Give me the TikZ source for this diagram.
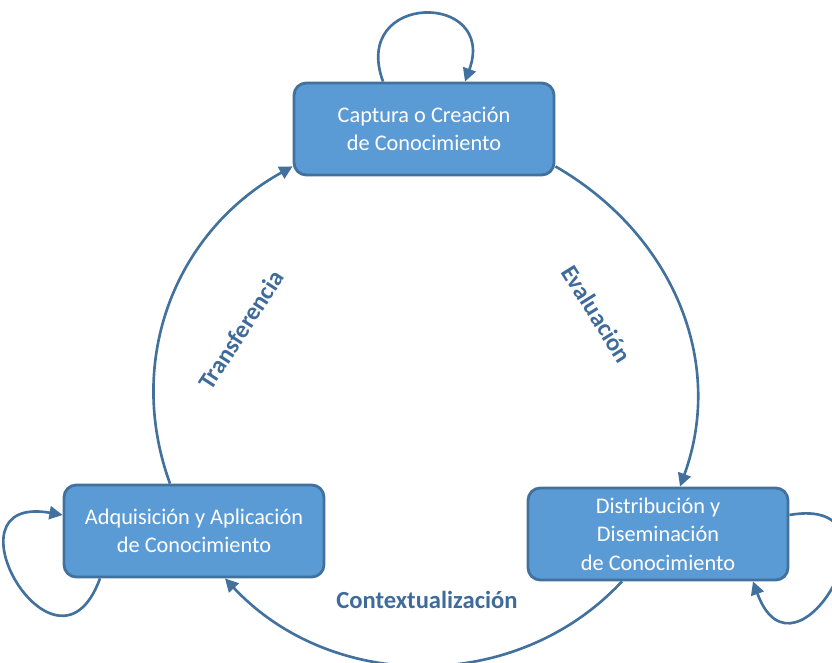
\documentclass[tikz,border=0pt]{standalone}
\usepackage{fontspec}
\setmainfont{Carlito}
\usepackage{tikz}
\usetikzlibrary{positioning,arrows.meta}
\definecolor{boxfill}{HTML}{5B9BD5}
\definecolor{boxline}{HTML}{41719C}
\definecolor{lblblue}{HTML}{3F6B9B}

\begin{document}
\begin{tikzpicture}[
    box/.style={draw=boxline, fill=boxfill, line width=1.6pt, rounded corners=7pt,
      minimum width=5.2cm, minimum height=1.84cm, align=center, text=white,
      font=\fontsize{12.7}{16.2}\selectfont},
    flow/.style={draw=boxline, line width=1.5pt, -{Triangle[length=7.5pt,width=7.5pt]}},
    lbl/.style={text=lblblue, font=\fontsize{14}{16}\selectfont\bfseries}
  ]
    \useasboundingbox (0,0) rectangle (16.64,13.26);
    % los tres procesos
    \node[box] (capt) at (8.48,10.68) {Captura o Creación\\de Conocimiento};
    \node[box] (dist) at (13.16,2.58) {Distribución y\\Diseminación\\de Conocimiento};
    \node[box] (adq)  at (3.88,2.64)  {Adquisición y Aplicación\\de Conocimiento};
    % ciclo
    \draw[flow] ([yshift=0.2cm]capt.south east) to[out=-30, in=70] ([xshift=0.44cm]dist.north);
    \draw[flow] ([xshift=-0.72cm]dist.south) to[out=-133, in=-47] ([xshift=0.62cm]adq.south);
    \draw[flow] ([xshift=-0.48cm]adq.north) to[out=110, in=-151] ([yshift=0.2cm]capt.south west);
    % bucles
    \draw[flow] ([xshift=-0.82cm]capt.north) to[out=110, in=70, looseness=3] ([xshift=0.82cm]capt.north);
    \draw[flow] ([xshift=-1.88cm]adq.south) to[out=-110, in=170, looseness=4.4] ([yshift=0.32cm]adq.west);
    \draw[flow] ([yshift=0.38cm]dist.east) to[out=10, in=-70, looseness=4.2] ([xshift=1.9cm]dist.south);
    % etiquetas
    \node[lbl, rotate=57]  (trans) at (4.82,6.66)  {Transferencia};
    \node[lbl, rotate=-58] (eval)  at (11.94,6.98) {Evaluación};
    \node[lbl]             (ctx)   at (8.54,1.26)  {Contextualización};
\end{tikzpicture}
\end{document}
